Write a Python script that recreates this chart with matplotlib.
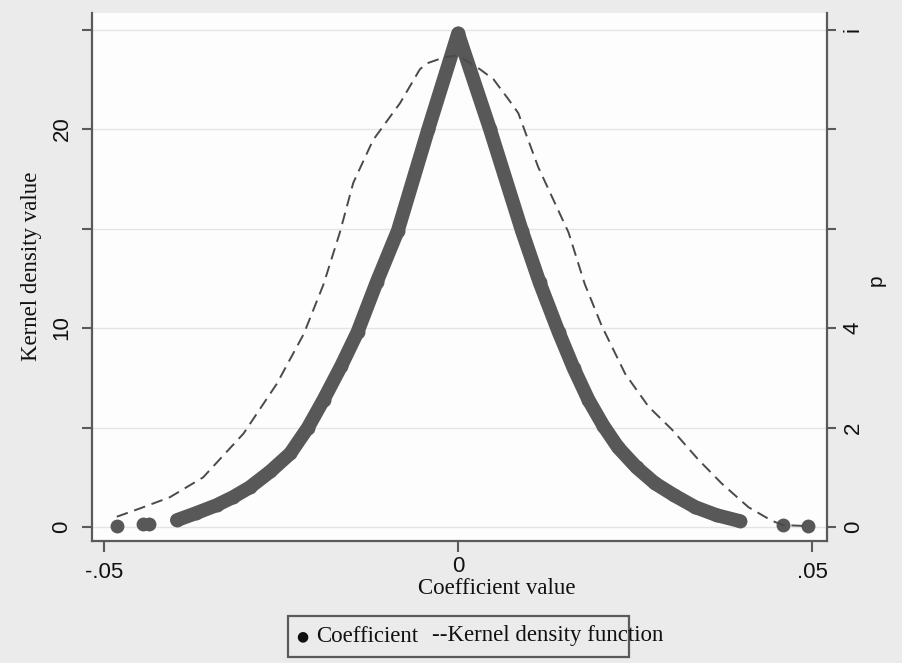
import matplotlib
matplotlib.use("Agg")
import matplotlib.pyplot as plt
from matplotlib.patches import Rectangle
from matplotlib.transforms import ScaledTranslation

# ---------------- data ----------------
# continuous band of coefficient scatter
coef_x = [-0.0397, -0.0370, -0.0341, -0.0318, -0.0294, -0.0265, -0.0237, -0.0212,
          -0.0190, -0.0165, -0.0142, -0.0115, -0.0085, -0.0042, 0.0, 0.0045, 0.0090,
          0.0115, 0.0142, 0.0163, 0.0184, 0.0205, 0.0226, 0.0252, 0.0278, 0.0305,
          0.0335, 0.0365, 0.0398]
coef_y = [0.35, 0.70, 1.10, 1.50, 2.00, 2.80, 3.70, 5.00,
          6.40, 8.10, 9.80, 12.3, 14.9, 20.0, 24.8, 20.0, 14.9,
          12.3, 9.80, 8.00, 6.40, 5.10, 4.00, 3.00, 2.20, 1.60,
          1.00, 0.60, 0.30]
# isolated tail points
tail_x = [-0.0482, -0.0445, -0.0437, 0.0459, 0.0494]
tail_y = [0.05, 0.15, 0.15, 0.10, 0.05]

# kernel density function
kd_x = [-0.0482, -0.0449, -0.0407, -0.0360, -0.0303, -0.0256, -0.0218, -0.0190,
        -0.0167, -0.0148, -0.0120, -0.0082, -0.0054, -0.0044, -0.0020, 0.0, 0.0031,
        0.0050, 0.0071, 0.0085, 0.0113, 0.0156, 0.0179, 0.0203, 0.0236, 0.0269,
        0.0302, 0.0339, 0.0372, 0.0410, 0.0443, 0.0459, 0.0494]
kd_y = [0.52, 0.94, 1.50, 2.50, 4.70, 7.20, 9.70, 12.2,
        14.8, 17.3, 19.45, 21.3, 23.0, 23.3, 23.6, 23.7, 23.0,
        22.5, 21.5, 20.8, 18.1, 14.8, 12.2, 10.1, 7.70, 6.05,
        4.90, 3.40, 2.20, 1.00, 0.32, 0.10, 0.05]

x_ticks = [-0.05, 0.0, 0.05]
x_ticklabels = ["-.05", "0", ".05"]
left_ticks = [0, 5, 10, 15, 20, 25]
left_ticklabels = ["0", "", "10", "", "20", ""]
right_ticks = [0, 2, 4, 6, 8, 10]
right_ticklabels = ["0", "2", "4", "", "", "i"]

# ---------------- figure ----------------
W, H = 902, 663
fig = plt.figure(figsize=(W / 100, H / 100), dpi=100, facecolor="#ebebeb")
ax = fig.add_axes([92 / W, 1 - 541 / H, (827 - 92) / W, (541 - 13) / H])
ax.set_facecolor("#fdfdfd")

ylo, yhi = -0.70, 25.83
ax.set_xlim(-0.0517, 0.0521)
ax.set_ylim(ylo, yhi)

band_col = "#585858"
ax.plot(coef_x, coef_y, color=band_col, lw=10, solid_capstyle="round",
        solid_joinstyle="round", zorder=3)
ax.plot(coef_x, coef_y, "o", color=band_col, ms=10, mew=0, zorder=3)
ax.plot(tail_x, tail_y, "o", color=band_col, ms=10, mew=0, zorder=3)

ax.plot(kd_x, kd_y, color="#4a4a4a", lw=1.4, dashes=(6, 3.5), zorder=4)

# grid
for t in left_ticks:
    ax.axhline(t, color="#e4e4e4", lw=1.0, zorder=1)

spine_col = "#5a5a5a"
for s in ["left", "bottom", "right"]:
    ax.spines[s].set_color(spine_col)
    ax.spines[s].set_linewidth(1.6)
ax.spines["top"].set_visible(False)

tick_font = dict(family="Liberation Sans", size=16)
ax.set_xticks(x_ticks)
ax.set_xticklabels(x_ticklabels, fontdict=tick_font)
ax.set_yticks(left_ticks)
ax.set_yticklabels(left_ticklabels, fontdict=tick_font, rotation=90, va="center")
ax.tick_params(axis="x", length=8, width=1.5, color=spine_col, pad=7, labelcolor="#111111")
ax.tick_params(axis="y", length=7, width=1.5, color=spine_col, pad=7, labelcolor="#111111")
# the centre "0" label sits slightly higher in the reference
zero_lab = ax.get_xticklabels()[1]
zero_lab.set_transform(zero_lab.get_transform() + ScaledTranslation(0, 6 / 100, fig.dpi_scale_trans))

ax2 = ax.twinx()
ax2.set_ylim(ylo / 2.5, yhi / 2.5)
ax2.set_yticks(right_ticks)
ax2.set_yticklabels(right_ticklabels, fontdict=tick_font, rotation=90, va="center")
ax2.tick_params(axis="y", length=6.5, width=1.5, color=spine_col, pad=5, labelcolor="#111111")
for s in ["left", "bottom", "right", "top"]:
    ax2.spines[s].set_visible(False)

serif = "Liberation Serif"
fig.text(497 / W, 1 - 589 / H, "Coefficient value", family=serif, size=16.5,
         ha="center", va="center", color="#111111")
fig.text(31 / W, 1 - 266 / H, "Kernel density value", family=serif, size=16.5,
         ha="center", va="center", rotation=90, color="#111111")
fig.text(876 / W, 1 - 280 / H, "p", family="Liberation Sans", size=15,
         ha="center", va="center", rotation=90, color="#111111")

# legend box
fig.patches.append(Rectangle((288 / W, 1 - 657 / H), (629 - 288) / W, (657 - 616) / H,
                             transform=fig.transFigure, fill=False,
                             edgecolor="#5a5a5a", lw=1.6))
fig.text(302 / W, 1 - 636 / H, "\u25CF", family="DejaVu Sans", size=10,
         ha="center", va="center", color="#111111")
fig.text(316 / W, 1 - 636 / H, "Coefficient", family=serif, size=16.5,
         ha="left", va="center", color="#111111")
fig.text(432 / W, 1 - 636 / H, "--Kernel density function", family=serif, size=16.5,
         ha="left", va="center", color="#111111")

fig.savefig("out.png", dpi=100, facecolor=fig.get_facecolor())
